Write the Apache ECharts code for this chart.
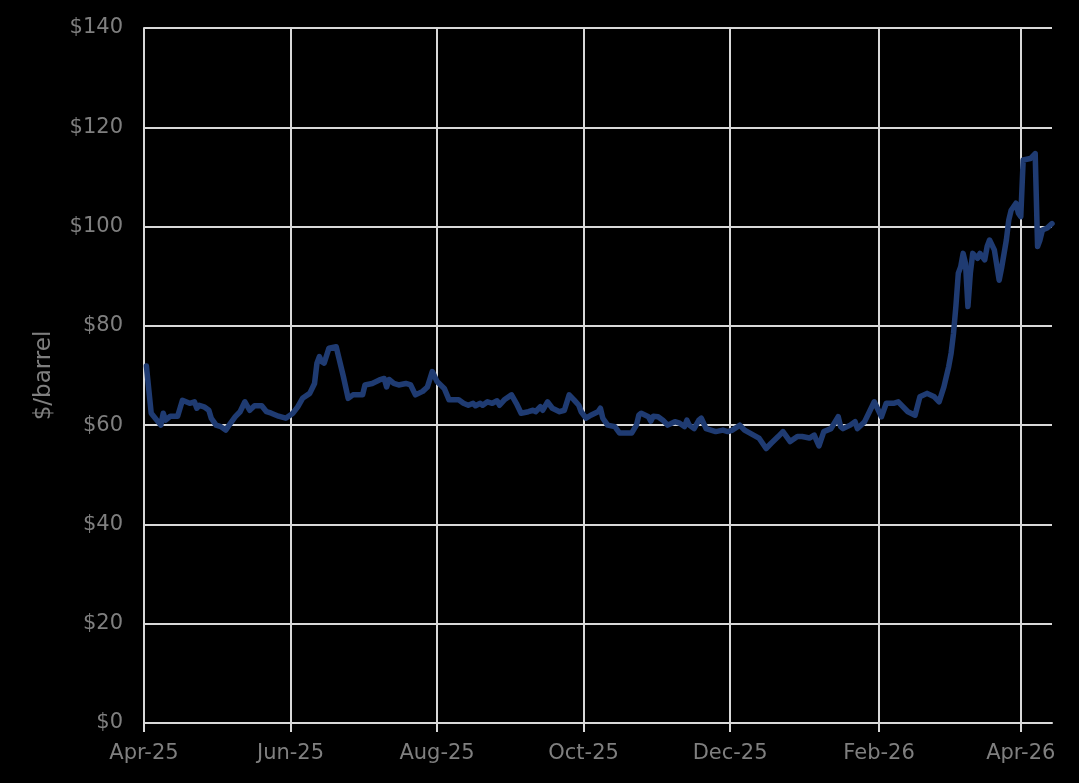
<!DOCTYPE html>
<html>
<head>
<meta charset="utf-8">
<script src="https://cdn.jsdelivr.net/npm/echarts@6/dist/echarts.min.js"></script>
<style>
html,body{margin:0;padding:0;background:#000;}
#chart{width:1079px;height:783px;}
</style>
</head>
<body>
<div id="chart"></div>
<script>
var dates = [
'2025-04-02','2025-04-04','2025-04-08','2025-04-09','2025-04-10','2025-04-12','2025-04-15','2025-04-17','2025-04-20','2025-04-22',
'2025-04-23','2025-04-24','2025-04-26','2025-04-28','2025-04-29','2025-05-01','2025-05-03','2025-05-05','2025-05-06','2025-05-09',
'2025-05-11','2025-05-13','2025-05-15','2025-05-17','2025-05-20','2025-05-22','2025-05-24','2025-05-27','2025-05-30','2025-06-02',
'2025-06-04','2025-06-06','2025-06-09','2025-06-11','2025-06-12','2025-06-13','2025-06-14','2025-06-15','2025-06-17','2025-06-20',
'2025-06-21','2025-06-23','2025-06-25','2025-06-27','2025-06-29','2025-07-01','2025-07-02','2025-07-05','2025-07-08','2025-07-10',
'2025-07-11','2025-07-12','2025-07-14','2025-07-16','2025-07-19','2025-07-21','2025-07-23','2025-07-26','2025-07-28','2025-07-30',
'2025-08-01','2025-08-04','2025-08-06','2025-08-07','2025-08-10','2025-08-12','2025-08-14','2025-08-16','2025-08-17','2025-08-19',
'2025-08-20','2025-08-22','2025-08-24','2025-08-26','2025-08-27','2025-08-29','2025-09-01','2025-09-03','2025-09-05','2025-09-08',
'2025-09-10','2025-09-11','2025-09-13','2025-09-14','2025-09-16','2025-09-18','2025-09-21','2025-09-23','2025-09-25','2025-09-27',
'2025-09-29','2025-09-30','2025-10-02','2025-10-04','2025-10-07','2025-10-08','2025-10-09','2025-10-11','2025-10-14','2025-10-16',
'2025-10-21','2025-10-23','2025-10-24','2025-10-25','2025-10-28','2025-10-29','2025-10-30','2025-11-01','2025-11-03','2025-11-05',
'2025-11-08','2025-11-10','2025-11-12','2025-11-13','2025-11-14','2025-11-16','2025-11-18','2025-11-19','2025-11-21','2025-11-23',
'2025-11-25','2025-11-28','2025-11-30','2025-12-02','2025-12-05','2025-12-07','2025-12-10','2025-12-13','2025-12-14','2025-12-16',
'2025-12-18','2025-12-21','2025-12-23','2025-12-26','2025-12-29','2025-12-31','2026-01-03','2026-01-05','2026-01-07','2026-01-09',
'2026-01-12','2026-01-15','2026-01-16','2026-01-17','2026-01-20','2026-01-22','2026-01-23','2026-01-26','2026-01-28','2026-01-30',
'2026-02-01','2026-02-02','2026-02-04','2026-02-07','2026-02-09','2026-02-13','2026-02-16','2026-02-18','2026-02-21','2026-02-24',
'2026-02-26','2026-02-28','2026-03-02','2026-03-03','2026-03-04','2026-03-05','2026-03-06','2026-03-07','2026-03-08','2026-03-09',
'2026-03-10','2026-03-11','2026-03-12','2026-03-14','2026-03-15','2026-03-17','2026-03-18','2026-03-19','2026-03-21','2026-03-23',
'2026-03-24','2026-03-26','2026-03-27','2026-03-28','2026-03-30','2026-03-31','2026-04-01','2026-04-02','2026-04-05','2026-04-07',
'2026-04-08','2026-04-09','2026-04-10','2026-04-12','2026-04-14'
];
var prices = [
71.9,62.4,60.0,62.4,61.0,61.8,61.8,65.0,64.4,64.7,
63.4,64.0,63.7,63.0,61.4,60.0,59.7,59.0,59.7,61.7,
62.7,64.7,63.0,63.9,63.9,62.7,62.4,61.8,61.4,62.4,
63.7,65.4,66.4,68.4,72.5,73.8,72.8,72.5,75.5,75.8,
73.8,69.8,65.4,66.1,66.1,66.1,68.1,68.4,69.1,69.4,
67.7,69.2,68.4,68.1,68.4,68.1,66.1,66.8,67.7,70.8,
68.8,67.4,65.1,65.1,65.1,64.4,64.0,64.4,63.9,64.4,
64.0,64.7,64.4,64.9,64.0,65.1,66.1,64.4,62.4,62.7,
63.0,62.7,63.7,63.0,64.7,63.4,62.7,63.0,66.1,65.1,
64.0,62.7,61.4,62.0,62.7,63.4,61.4,60.0,59.7,58.4,
58.4,60.0,62.0,62.4,61.7,60.8,61.8,61.7,61.0,60.0,
60.7,60.4,59.7,61.0,60.0,59.3,61.0,61.4,59.3,59.0,
58.7,59.0,58.7,59.0,60.0,59.0,58.2,57.4,56.7,55.3,
56.3,57.7,58.7,56.7,57.7,57.7,57.4,58.0,55.8,58.7,
59.3,61.7,59.7,59.3,60.0,60.7,59.3,60.7,62.7,64.7,
62.7,61.7,64.4,64.4,64.7,62.7,62.0,65.7,66.4,65.7,
64.7,67.7,71.8,74.5,78.5,84.0,90.6,91.9,94.6,92.6,
83.9,90.6,94.6,93.6,94.6,93.3,96.0,97.3,95.3,89.2,
91.6,97.3,101.3,103.3,104.7,102.7,102.0,113.4,113.7,114.7,
96.0,97.3,99.3,99.7,100.6
];
var tickDates = ['2025-04-01','2025-06-01','2025-08-01','2025-10-01','2025-12-01','2026-02-01','2026-04-01'];
var tickLabels = ['Apr-25','Jun-25','Aug-25','Oct-25','Dec-25','Feb-26','Apr-26'];
var yTicks = [0,20,40,60,80,100,120,140];

function toTime(s){ var p = s.split('-'); return Date.UTC(+p[0], +p[1]-1, +p[2]); }
var seriesData = dates.map(function(d,i){ return [toTime(d), prices[i]]; });
var tickValues = tickDates.map(toTime);
var labelMap = {};
tickValues.forEach(function(t,i){ labelMap[t] = tickLabels[i]; });

var chart = echarts.init(document.getElementById('chart'));
var gridColor = '#d9d9d9';
var labelColor = '#7f7f7f';
var fontFam = 'DejaVu Sans';
chart.setOption({
  backgroundColor: '#000000',
  animation: false,
  grid: {left: 144, right: 27, top: 28, bottom: 60, containLabel: false},
  xAxis: {
    type: 'value',
    min: toTime('2025-04-01'),
    max: toTime('2026-04-14'),
    axisLine: {show: true, lineStyle: {color: gridColor, width: 2}},
    axisTick: {show: true, customValues: tickValues, length: 9, lineStyle: {color: gridColor, width: 2}},
    splitLine: {show: true, lineStyle: {color: gridColor, width: 2}},
    axisLabel: {
      customValues: tickValues,
      color: labelColor, fontSize: 21, fontFamily: fontFam, margin: 20,
      formatter: function(v){ return labelMap[v] || ''; }
    }
  },
  yAxis: {
    type: 'value',
    min: yTicks[0], max: yTicks[yTicks.length-1], interval: 20,
    name: '$/barrel',
    nameLocation: 'middle',
    nameGap: 88,
    nameTextStyle: {color: labelColor, fontSize: 23, fontFamily: fontFam},
    axisLine: {show: true, lineStyle: {color: gridColor, width: 2}},
    axisTick: {show: false},
    splitLine: {show: true, lineStyle: {color: gridColor, width: 2}},
    axisLabel: {color: labelColor, fontSize: 21, fontFamily: fontFam, margin: 21,
      formatter: function(v){ return '$' + v; }}
  },
  series: [{
    type: 'line',
    data: seriesData,
    showSymbol: false,
    lineStyle: {color: '#1f3b72', width: 5.5, join: 'round', cap: 'round'},
    itemStyle: {color: '#1f3b72'}
  }]
});
</script>
</body>
</html>
